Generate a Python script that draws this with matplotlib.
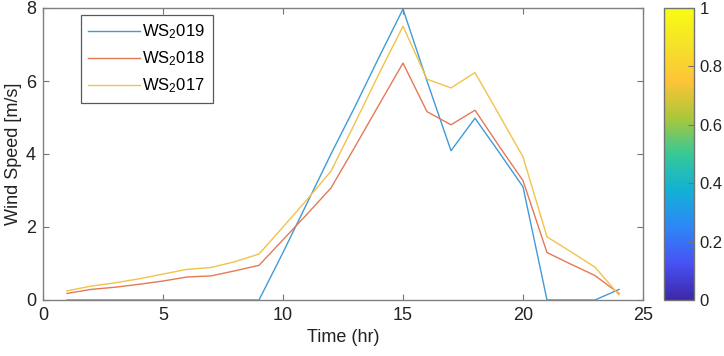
import numpy as np
import matplotlib
matplotlib.use("Agg")
import matplotlib.pyplot as plt
from matplotlib.colors import LinearSegmentedColormap
from matplotlib.colorbar import ColorbarBase
from matplotlib.colors import Normalize

plt.rcParams['font.family'] = ['Liberation Sans', 'DejaVu Sans']
plt.rcParams['mathtext.fontset'] = 'custom'
plt.rcParams['mathtext.rm'] = 'Liberation Sans'
plt.rcParams['mathtext.it'] = 'Liberation Sans'

## Hourly wind speed values
hours = np.arange(1, 25)
ws_2019 = [0, 0, 0, 0, 0, 0, 0, 0, 0, 1.3, 2.65, 4.0, 5.3, 6.65, 7.97,
           6.0, 4.09, 4.98, 4.05, 3.1, 0, 0, 0, 0.29]
ws_2018 = [0.18, 0.29, 0.35, 0.43, 0.52, 0.63, 0.66, 0.8, 0.95, 1.65, 2.35, 3.07, 4.2, 5.35, 6.49,
           5.16, 4.8, 5.2, 4.22, 3.27, 1.3, 0.98, 0.67, 0.18]
ws_2017 = [0.25, 0.38, 0.47, 0.58, 0.71, 0.84, 0.89, 1.05, 1.26, 2.0, 2.75, 3.53, 4.85, 6.2, 7.5,
           6.05, 5.81, 6.23, 5.08, 3.92, 1.73, 1.32, 0.9, 0.14]
labels = ['WS$_2$019', 'WS$_2$018', 'WS$_2$017']

## MATLAB parula, roughly
parula_pts = [(0.2422, 0.1504, 0.6603), (0.2810, 0.3228, 0.9579), (0.1786, 0.5289, 0.9682),
              (0.0689, 0.6948, 0.8394), (0.2161, 0.7843, 0.5923), (0.6720, 0.7793, 0.2227),
              (0.9970, 0.7659, 0.2199), (0.9598, 0.8870, 0.1566), (0.9769, 0.9839, 0.0805)]
parula = LinearSegmentedColormap.from_list('parula', parula_pts)

colors = ['#3f9bd8', '#e47a55', '#f2c24a']

fig = plt.figure(figsize=(7.24, 3.56), dpi=100)
ax = fig.add_axes([43/724, 1-300/356, 600/724, 292/356])
cax = fig.add_axes([664/724, 1-300/356, 30/724, 292/356])

for ys, c, lab in zip([ws_2019, ws_2018, ws_2017], colors, labels):
    ax.plot(hours, ys, color=c, lw=1.0, label=lab)

ax.set_xlim(0, 25)
ax.set_ylim(0, 8)
ax.set_xticks([0, 5, 10, 15, 20, 25])
ax.set_yticks([0, 2, 4, 6, 8])
ax.set_xlabel('Time (hr)', fontsize=13, color='#222222', labelpad=4)
ax.set_ylabel('Wind Speed [m/s]', fontsize=13, color='#222222', labelpad=3)
ax.tick_params(direction='in', top=True, right=True, length=4, width=0.8,
               colors='0.45', labelcolor='#222222', labelsize=13, pad=5)
for s in ax.spines.values():
    s.set_color('0.5')
    s.set_linewidth(1.0)

leg = ax.legend(loc='upper left', bbox_to_anchor=(0.063, 0.976), borderaxespad=0,
                fontsize=12, handlelength=3.1, handletextpad=0.15, labelspacing=0.5,
                borderpad=0.45, fancybox=False, framealpha=1)
leg.get_frame().set_edgecolor('0.35')
leg.get_frame().set_linewidth(0.9)

cb = ColorbarBase(cax, cmap=parula, norm=Normalize(0, 1))
cb.set_ticks([0, 0.2, 0.4, 0.6, 0.8, 1])
cb.set_ticklabels(['0', '0.2', '0.4', '0.6', '0.8', '1'])
cax.tick_params(direction='in', length=4, width=0.8, colors='0.45',
                labelcolor='#222222', labelsize=12, pad=4)
cb.outline.set_edgecolor('0.45')
cb.outline.set_linewidth(1.0)

fig.savefig('out.png', dpi=100)
